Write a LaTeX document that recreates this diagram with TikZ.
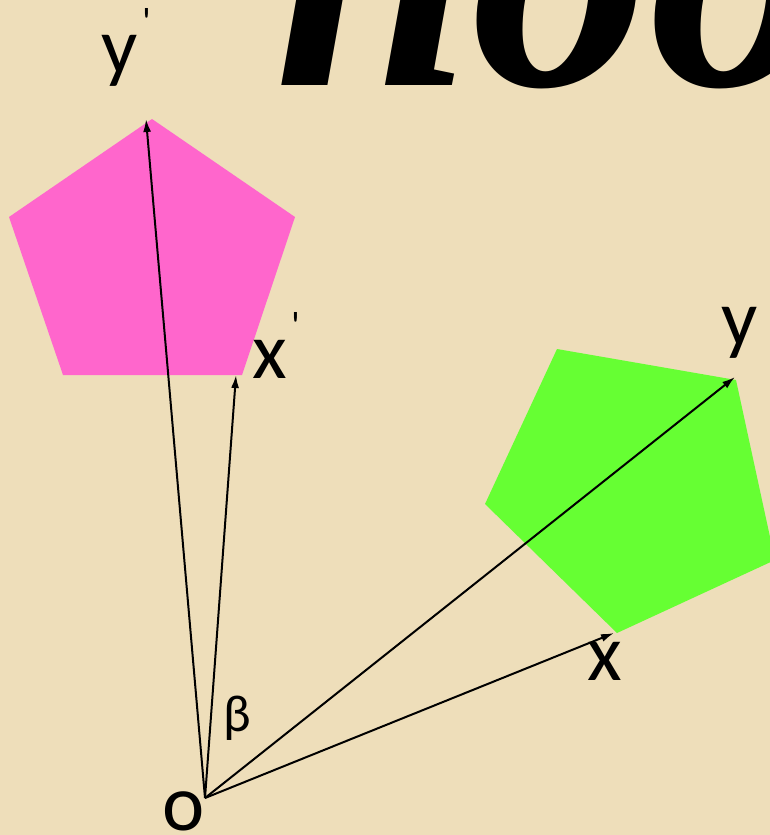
\documentclass[tikz,border=0pt]{standalone}
\usepackage{fontspec}
\newfontfamily\lab{Carlito}
\newfontfamily\titlefont{Liberation Serif}
\usetikzlibrary{arrows.meta}
\definecolor{parch}{RGB}{238,222,186}
\definecolor{pinkfill}{RGB}{255,102,204}
\definecolor{greenfill}{RGB}{102,255,51}
\begin{document}
\begin{tikzpicture}[x=1pt,y=-1pt,
  vec/.style={black,line width=2pt,-{Latex[length=13pt,width=8pt]}},
  lbl/.style={inner sep=0pt,anchor=base,font=\lab\fontsize{80}{80}\selectfont},
  primelbl/.style={inner sep=0pt,anchor=north,font=\lab\fontsize{40}{40}\selectfont},
  greeklbl/.style={inner sep=0pt,anchor=base,font=\lab\fontsize{52}{52}\selectfont}]
\fill[parch] (0,0) rectangle (770,835);
\useasboundingbox (0,0) rectangle (770,835);
\clip (0,0) rectangle (770,835);
% partially visible title
\node[inner sep=0pt,anchor=base west,font=\titlefont\bfseries\itshape\fontsize{355}{355}\selectfont] (title) at (274,85) {noo};
% pentagons
\fill[pinkfill] (152,119) -- (295,217) -- (242,375) -- (63,375) -- (9,217) -- cycle;
\fill[greenfill] (557,349) -- (736,380) -- (775,560) -- (617,633) -- (485,504) -- cycle;
% vectors
\coordinate (O) at (205,798);
\coordinate (yp) at (146,119);
\coordinate (xp) at (236,375);
\coordinate (y) at (735,377);
\coordinate (x) at (614,633);
\draw[vec] (O) -- (yp);
\draw[vec] (O) -- (xp);
\draw[vec] (O) -- (y);
\draw[vec] (O) -- (x);
% labels
\node[lbl] (lyp) at (120,73) {y};
\node[primelbl] (lypp) at (147,8) {'};
\node[lbl] (lxp) at (270,378) {x};
\node[primelbl] (lxpp) at (296,312) {'};
\node[lbl] (ly) at (740,345) {y};
\node[lbl] (lx) at (605,680) {x};
\node[lbl] (lo) at (184,830) {o};
\node[greeklbl] (lb) at (237,731) {β};
\end{tikzpicture}
\end{document}
